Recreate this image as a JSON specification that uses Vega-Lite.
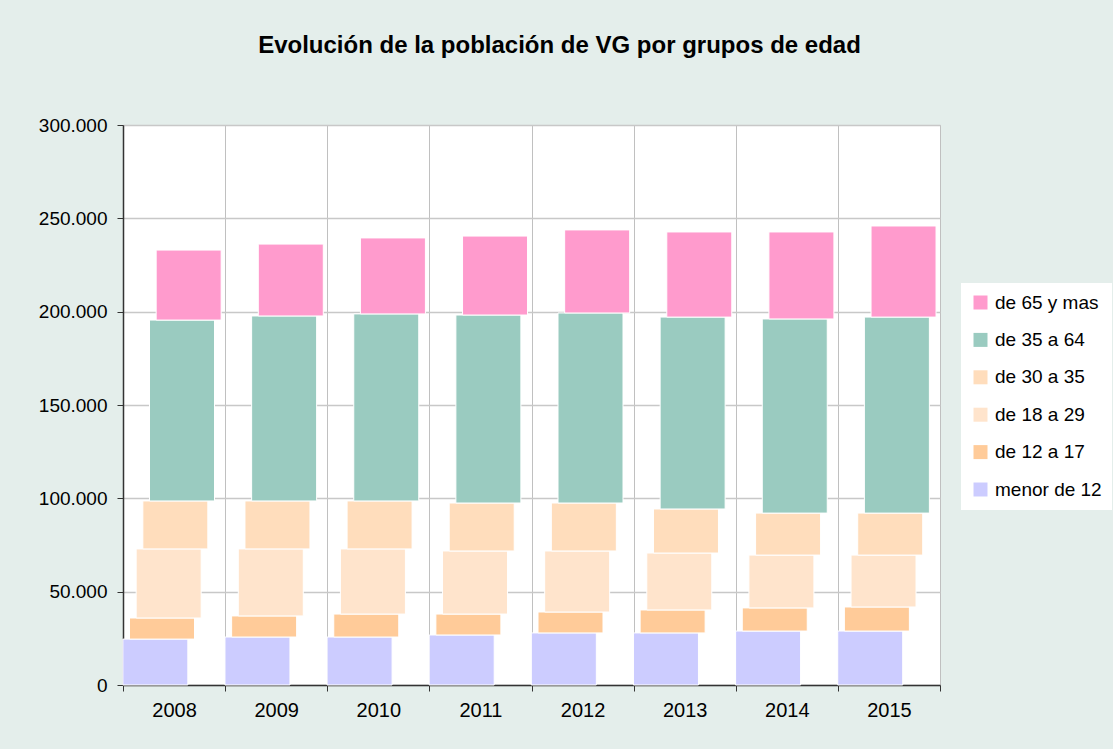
{
  "$schema": "https://vega.github.io/schema/vega-lite/v6.json",
  "autosize": {"type": "none"},
  "width": 817,
  "height": 560,
  "padding": {"left": 123, "top": 125, "right": 173, "bottom": 64},
  "background": "#E4EEEB",
  "config": {
    "locale": {"number": {"decimal": ",", "thousands": ".", "grouping": [3], "currency": ["", " €"]}},
    "view": {"fill": "white", "stroke": "#BFBFBF", "strokeWidth": 1},
    "font": "Liberation Sans"
  },
  "title": {
    "text": "Evolución de la población de VG por grupos de edad",
    "fontSize": 24,
    "fontWeight": "bold",
    "font": "Liberation Sans",
    "color": "black",
    "anchor": "middle",
    "frame": "group",
    "dx": 28,
    "offset": 58
  },
  "data": {
    "values": [
      {"anio": "2008", "grupo": "menor de 12", "orden": 1, "poblacion": 24600},
      {"anio": "2008", "grupo": "de 12 a 17", "orden": 2, "poblacion": 11300},
      {"anio": "2008", "grupo": "de 18 a 29", "orden": 3, "poblacion": 37000},
      {"anio": "2008", "grupo": "de 30 a 35", "orden": 4, "poblacion": 25700},
      {"anio": "2008", "grupo": "de 35 a 64", "orden": 5, "poblacion": 96900},
      {"anio": "2008", "grupo": "de 65 y mas", "orden": 6, "poblacion": 37500},
      {"anio": "2009", "grupo": "menor de 12", "orden": 1, "poblacion": 25700},
      {"anio": "2009", "grupo": "de 12 a 17", "orden": 2, "poblacion": 11300},
      {"anio": "2009", "grupo": "de 18 a 29", "orden": 3, "poblacion": 35900},
      {"anio": "2009", "grupo": "de 30 a 35", "orden": 4, "poblacion": 25700},
      {"anio": "2009", "grupo": "de 35 a 64", "orden": 5, "poblacion": 99100},
      {"anio": "2009", "grupo": "de 65 y mas", "orden": 6, "poblacion": 38500},
      {"anio": "2010", "grupo": "menor de 12", "orden": 1, "poblacion": 25700},
      {"anio": "2010", "grupo": "de 12 a 17", "orden": 2, "poblacion": 12300},
      {"anio": "2010", "grupo": "de 18 a 29", "orden": 3, "poblacion": 34900},
      {"anio": "2010", "grupo": "de 30 a 35", "orden": 4, "poblacion": 25700},
      {"anio": "2010", "grupo": "de 35 a 64", "orden": 5, "poblacion": 100200},
      {"anio": "2010", "grupo": "de 65 y mas", "orden": 6, "poblacion": 40700},
      {"anio": "2011", "grupo": "menor de 12", "orden": 1, "poblacion": 26800},
      {"anio": "2011", "grupo": "de 12 a 17", "orden": 2, "poblacion": 11200},
      {"anio": "2011", "grupo": "de 18 a 29", "orden": 3, "poblacion": 33800},
      {"anio": "2011", "grupo": "de 30 a 35", "orden": 4, "poblacion": 25700},
      {"anio": "2011", "grupo": "de 35 a 64", "orden": 5, "poblacion": 100700},
      {"anio": "2011", "grupo": "de 65 y mas", "orden": 6, "poblacion": 42300},
      {"anio": "2012", "grupo": "menor de 12", "orden": 1, "poblacion": 27900},
      {"anio": "2012", "grupo": "de 12 a 17", "orden": 2, "poblacion": 11200},
      {"anio": "2012", "grupo": "de 18 a 29", "orden": 3, "poblacion": 32700},
      {"anio": "2012", "grupo": "de 30 a 35", "orden": 4, "poblacion": 25700},
      {"anio": "2012", "grupo": "de 35 a 64", "orden": 5, "poblacion": 101800},
      {"anio": "2012", "grupo": "de 65 y mas", "orden": 6, "poblacion": 44500},
      {"anio": "2013", "grupo": "menor de 12", "orden": 1, "poblacion": 27900},
      {"anio": "2013", "grupo": "de 12 a 17", "orden": 2, "poblacion": 12300},
      {"anio": "2013", "grupo": "de 18 a 29", "orden": 3, "poblacion": 30500},
      {"anio": "2013", "grupo": "de 30 a 35", "orden": 4, "poblacion": 23600},
      {"anio": "2013", "grupo": "de 35 a 64", "orden": 5, "poblacion": 102800},
      {"anio": "2013", "grupo": "de 65 y mas", "orden": 6, "poblacion": 45600},
      {"anio": "2014", "grupo": "menor de 12", "orden": 1, "poblacion": 28900},
      {"anio": "2014", "grupo": "de 12 a 17", "orden": 2, "poblacion": 12400},
      {"anio": "2014", "grupo": "de 18 a 29", "orden": 3, "poblacion": 28300},
      {"anio": "2014", "grupo": "de 30 a 35", "orden": 4, "poblacion": 22500},
      {"anio": "2014", "grupo": "de 35 a 64", "orden": 5, "poblacion": 104000},
      {"anio": "2014", "grupo": "de 65 y mas", "orden": 6, "poblacion": 46600},
      {"anio": "2015", "grupo": "menor de 12", "orden": 1, "poblacion": 28900},
      {"anio": "2015", "grupo": "de 12 a 17", "orden": 2, "poblacion": 12900},
      {"anio": "2015", "grupo": "de 18 a 29", "orden": 3, "poblacion": 27800},
      {"anio": "2015", "grupo": "de 30 a 35", "orden": 4, "poblacion": 22500},
      {"anio": "2015", "grupo": "de 35 a 64", "orden": 5, "poblacion": 105000},
      {"anio": "2015", "grupo": "de 65 y mas", "orden": 6, "poblacion": 48800}
    ]
  },
  "transform": [
    {"stack": "poblacion", "groupby": ["anio"], "sort": [{"field": "orden", "order": "ascending"}], "as": ["v0", "v1"]}
  ],
  "mark": {"type": "bar", "width": 65, "stroke": "white", "strokeWidth": 1},
  "encoding": {
    "x": {
      "field": "anio",
      "type": "ordinal",
      "scale": {"paddingInner": 0, "paddingOuter": 0},
      "axis": {
        "title": null,
        "labelAngle": 0,
        "tickBand": "extent",
        "grid": true,
        "gridColor": "#C0C0C0",
        "gridWidth": 1,
        "domainColor": "#333333",
        "domainWidth": 1.5,
        "tickColor": "#333333",
        "tickSize": 6,
        "labelFontSize": 20,
        "labelColor": "black",
        "labelPadding": 9
      }
    },
    "xOffset": {
      "field": "grupo",
      "type": "nominal",
      "scale": {"domain": ["menor de 12", "de 12 a 17", "de 18 a 29", "de 30 a 35", "de 35 a 64", "de 65 y mas"], "range": [29, 69]}
    },
    "y": {
      "field": "v1",
      "type": "quantitative",
      "scale": {"domain": [0, 300000], "nice": false},
      "axis": {
        "title": null,
        "values": [0, 50000, 100000, 150000, 200000, 250000, 300000],
        "format": ",d",
        "grid": true,
        "gridColor": "#C8C8C8",
        "gridWidth": 1.5,
        "domainColor": "#333333",
        "domainWidth": 1.5,
        "tickColor": "#333333",
        "tickSize": 6,
        "labelFontSize": 19,
        "labelColor": "black",
        "labelPadding": 10
      }
    },
    "y2": {"field": "v0"},
    "color": {
      "field": "grupo",
      "type": "nominal",
      "scale": {
        "domain": ["de 65 y mas", "de 35 a 64", "de 30 a 35", "de 18 a 29", "de 12 a 17", "menor de 12"],
        "range": ["#FF9BCD", "#9ACBC0", "#FFDDBC", "#FFE4CC", "#FFCB99", "#CCCCFF"]
      },
      "legend": {
        "title": null,
        "orient": "none",
        "legendX": 838,
        "legendY": 158,
        "fillColor": "white",
        "padding": 10,
        "symbolType": "square",
        "symbolSize": 196,
        "symbolStrokeWidth": 0,
        "labelFontSize": 19,
        "labelColor": "black",
        "labelOffset": 5,
        "rowPadding": 17.4
      }
    }
  }
}
